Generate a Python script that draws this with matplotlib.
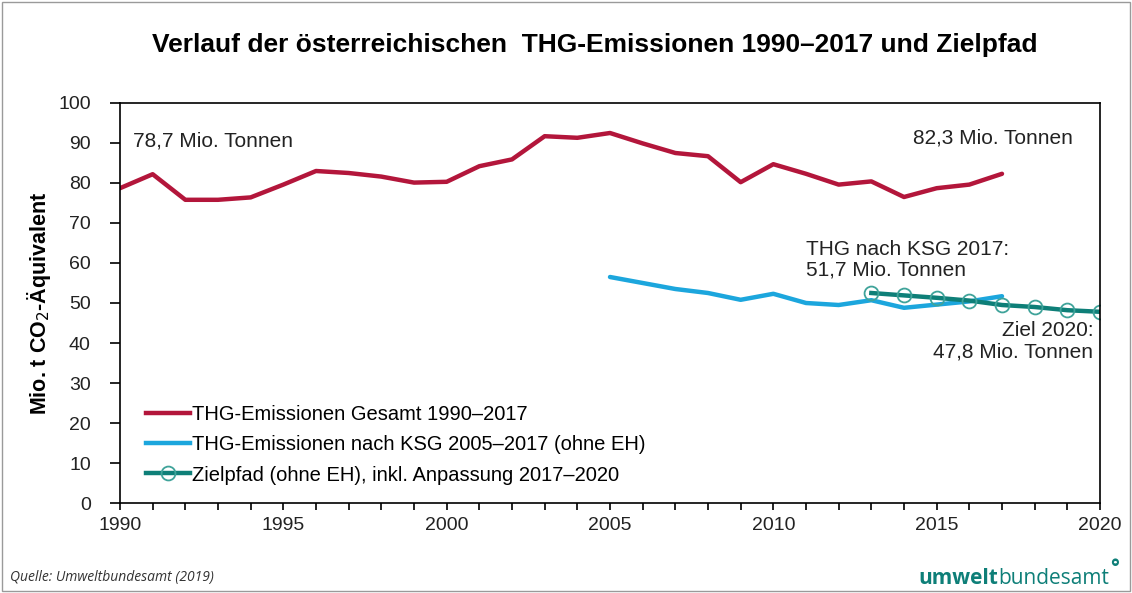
import matplotlib.pyplot as plt
from matplotlib.patches import Rectangle
from matplotlib.lines import Line2D

plt.rcParams['font.family'] = ['Liberation Sans', 'DejaVu Sans']

years_total = list(range(1990, 2018))
total = [78.7, 82.2, 75.8, 75.8, 76.4, 79.6, 83.0, 82.5, 81.6, 80.1, 80.3, 84.2,
         85.9, 91.7, 91.3, 92.5, 89.9, 87.5, 86.7, 80.2, 84.7, 82.3, 79.6, 80.4,
         76.5, 78.7, 79.6, 82.3]

years_ksg = list(range(2005, 2018))
ksg = [56.5, 55.0, 53.5, 52.5, 50.8, 52.3, 50.0, 49.5, 50.7, 48.8, 49.6, 50.4, 51.7]

years_ziel = list(range(2013, 2021))
ziel = [52.5, 51.9, 51.3, 50.6, 49.5, 49.0, 48.2, 47.8]

labels = ['THG-Emissionen Gesamt 1990–2017',
          'THG-Emissionen nach KSG 2005–2017 (ohne EH)',
          'Zielpfad (ohne EH), inkl. Anpassung 2017–2020']

c_red = '#B3163B'
c_blue = '#1CA6DD'
c_green = '#0E7F78'
c_marker = '#3FA39A'
c_text = '#222222'

fig = plt.figure(figsize=(11.32, 5.93), dpi=100)
ax = fig.add_axes([120/1132, 1-503/593, 980/1132, 400/593])

ax.plot(years_total, total, color=c_red, lw=3.2, solid_capstyle='round')
ax.plot(years_ksg, ksg, color=c_blue, lw=3.2, solid_capstyle='round')
ax.plot(years_ziel, ziel, color=c_green, lw=3.2, marker='o', ms=10,
        mfc='none', mec=c_marker, mew=1.3)

ax.set_xlim(1990, 2020)
ax.set_ylim(0, 100)
ax.set_xticks(range(1990, 2021, 5))
ax.set_xticks(range(1990, 2021), minor=True)
ax.set_yticks(range(0, 101, 10))
ax.tick_params(axis='both', which='both', direction='out', labelsize=14,
               colors='black', width=1.2, labelcolor=c_text)
ax.tick_params(axis='x', which='both', length=5, pad=5)
ax.tick_params(axis='y', length=7, pad=14)
for s in ax.spines.values():
    s.set_linewidth(1.2)
    s.set_color('black')

ax.set_ylabel('Mio. t CO$_2$-Äquivalent', fontsize=15.5, fontweight='bold', labelpad=4)

handles = [Line2D([], [], color=c_red, lw=3.2),
           Line2D([], [], color=c_blue, lw=3.2),
           Line2D([], [], color=c_green, lw=3.2, marker='o', ms=10,
                  mfc='none', mec=c_marker, mew=1.3)]
ax.legend(handles, labels, loc='lower left', bbox_to_anchor=(0.012, 0.011),
          frameon=False, fontsize=14.5, handlelength=2.2, handletextpad=0.1,
          labelspacing=0.56, borderpad=0.2)

ax.text(1990.4, 90.5, '78,7 Mio. Tonnen', fontsize=15, color=c_text, va='center')
ax.text(2019.17, 91.3, '82,3 Mio. Tonnen', fontsize=15, color=c_text,
        va='center', ha='right')
ax.text(2011.0, 55.8, 'THG nach KSG 2017:\n51,7 Mio. Tonnen', fontsize=15,
        color=c_text, va='bottom', linespacing=1.1)
ax.text(2019.8, 35.5, 'Ziel 2020:\n47,8 Mio. Tonnen', fontsize=15,
        color=c_text, va='bottom', ha='right', linespacing=1.1)

fig.text(595/1132, 1-45/593, 'Verlauf der österreichischen  THG-Emissionen 1990–2017 und Zielpfad',
         ha='center', va='center', fontsize=19, fontweight='bold')

fig.text(10/1132, 1-578/593, 'Quelle: Umweltbundesamt (2019)', fontsize=10,
         style='italic', family=['Open Sans', 'DejaVu Sans'], color='#333333', va='center')
t1 = fig.text(918/1132, 1-578/593, 'umwelt', fontsize=15, fontweight='bold',
              family=['Open Sans', 'DejaVu Sans'], color=c_green, va='center')
fig.canvas.draw()
bb = t1.get_window_extent()
t2 = fig.text(bb.x1/1132, 1-578/593, 'bundesamt', fontsize=15,
              family=['Open Sans', 'DejaVu Sans'], color=c_green, va='center')
bb2 = t2.get_window_extent()
fig.text(bb2.x1/1132 + 0.001, 1-568/593, '°', fontsize=15, fontweight='bold',
         family=['Open Sans', 'DejaVu Sans'], color=c_green, va='center')

fig.add_artist(Rectangle((0.002, 0.003), 0.996, 0.994, transform=fig.transFigure,
                         fill=False, edgecolor='#9A9A9A', lw=1.0))

fig.savefig('out.png', dpi=100)
